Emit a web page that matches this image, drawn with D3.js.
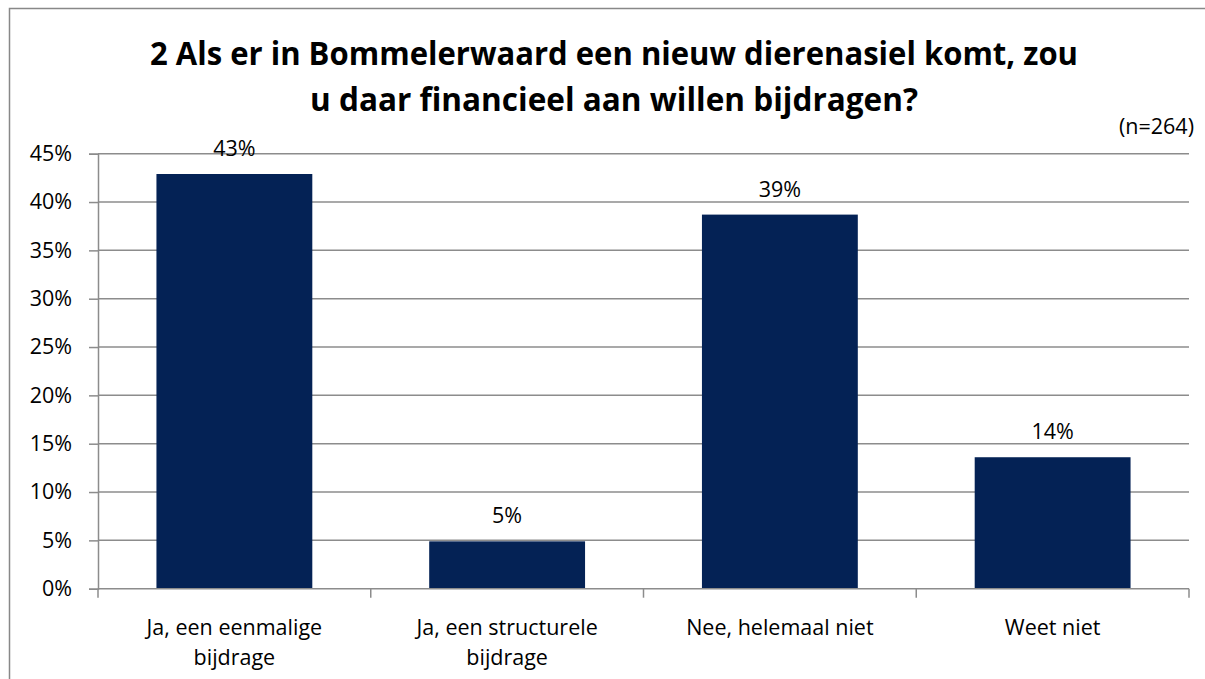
<!DOCTYPE html>
<html><head><meta charset="utf-8">
<script src="https://cdn.jsdelivr.net/npm/d3@7"></script>
<style>body{margin:0;background:#fff}svg{display:block}text{font-family:"Open Sans",Lato,sans-serif}</style>
</head><body>
<script>
const categories = [["Ja, een eenmalige","bijdrage"],["Ja, een structurele","bijdrage"],["Nee, helemaal niet"],["Weet niet"]];
const values = [42.9, 4.9, 38.7, 13.6];
const valueLabels = ["43%","5%","39%","14%"];
const yTicks = [0,5,10,15,20,25,30,35,40,45];
const titleLines = ["2 Als er in Bommelerwaard een nieuw dierenasiel komt, zou","u daar financieel aan willen bijdragen?"];
const note = "(n=264)";

const W=1205,H=679;
const svg=d3.select("body").append("svg").attr("width",W).attr("height",H);
svg.append("rect").attr("x",9.5).attr("y",8.5).attr("width",1205).attr("height",700).attr("fill","none").attr("stroke","#888").attr("stroke-width",1.5);

const L=98,R=1189,T=153.7,B=588.7;
const x=d3.scaleBand().domain(d3.range(categories.length)).range([L,R]).paddingInner(0.75/1.75).paddingOuter(0.75/1.75/2);
const y=d3.scaleLinear().domain([0,45]).range([B,T]);
const FS=21.5;

svg.append("g").selectAll("line").data(yTicks.filter(d=>d>0)).join("line")
 .attr("x1",L).attr("x2",R).attr("y1",d=>y(d)).attr("y2",d=>y(d)).attr("stroke","#8c8c8c").attr("stroke-width",1.5);

const ya=svg.append("g").attr("transform",`translate(${L},0)`).call(d3.axisLeft(y).tickValues(yTicks).tickSize(9).tickPadding(17).tickFormat(d=>d+"%"));
ya.select(".domain").attr("stroke","#8c8c8c").attr("stroke-width",1.5);
ya.selectAll(".tick line").attr("stroke","#8c8c8c").attr("stroke-width",1.5);
ya.selectAll(".tick text").attr("font-size",FS).attr("fill","#000").style("font-family","'Open Sans'");

svg.append("g").selectAll("rect").data(values).join("rect")
 .attr("x",(d,i)=>x(i)).attr("width",x.bandwidth()).attr("y",d=>y(d)).attr("height",d=>B-y(d)).attr("fill","#042255");

const xa=svg.append("g").attr("transform",`translate(0,${B})`);
xa.append("line").attr("x1",L).attr("x2",R).attr("stroke","#8c8c8c").attr("stroke-width",1.5);
const step=x.step();
xa.selectAll(".tk").data(d3.range(categories.length+1)).join("line")
 .attr("x1",i=>L+i*step).attr("x2",i=>L+i*step).attr("y1",0).attr("y2",9).attr("stroke","#8c8c8c").attr("stroke-width",1.5);
xa.selectAll(".lbl").data(categories).join("text")
 .attr("text-anchor","middle").attr("font-size",FS).attr("fill","#000")
 .attr("transform",(d,i)=>`translate(${x(i)+x.bandwidth()/2},0)`)
 .each(function(d){d3.select(this).selectAll("tspan").data(d).join("tspan").attr("x",0).attr("y",(t,j)=>46+j*30).text(t=>t);});

svg.append("g").selectAll("text").data(values).join("text")
 .attr("x",(d,i)=>x(i)+x.bandwidth()/2).attr("y",d=>y(d)-18).attr("text-anchor","middle").attr("font-size",FS).text((d,i)=>valueLabels[i]);

const titleW=[928,608];
svg.append("g").selectAll("text").data(titleLines).join("text")
 .attr("x",614).attr("y",(d,i)=>64.5+i*46).attr("text-anchor","middle").attr("font-size",32).attr("font-weight","bold")
 .attr("textLength",(d,i)=>titleW[i]).attr("lengthAdjust","spacingAndGlyphs")
 .text(d=>d);
svg.append("text").attr("x",1194).attr("y",134).attr("text-anchor","end").attr("font-size",FS).text(note);
</script>
</body></html>
